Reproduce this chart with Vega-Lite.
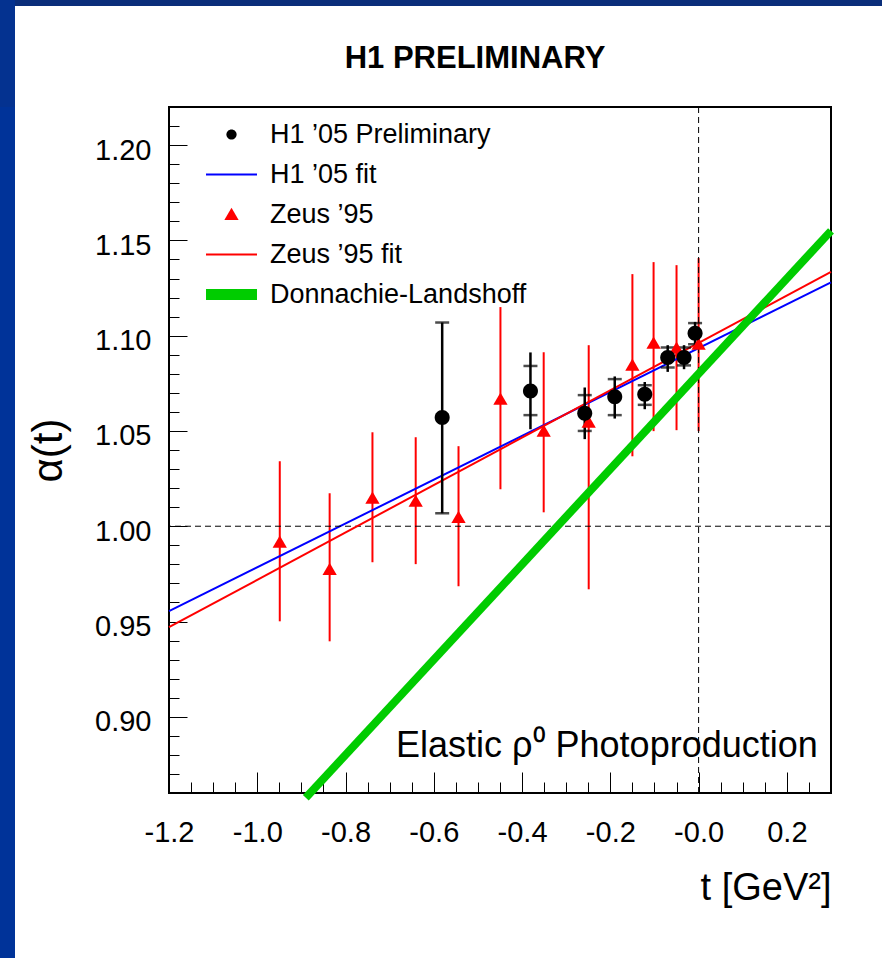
{
  "$schema": "https://vega.github.io/schema/vega-lite/v6.json",
  "background": "white",
  "padding": 0,
  "spacing": -101,
  "config": {
    "font": "Liberation Sans",
    "view": {"stroke": null},
    "legend": {
      "symbolSize": 2600,
      "symbolStrokeWidth": 0,
      "symbolOpacity": 1,
      "labelFont": "Liberation Sans",
      "labelFontSize": 27,
      "labelColor": "black",
      "labelOffset": 13,
      "labelLimit": 400,
      "rowPadding": 12,
      "clipHeight": 27,
      "padding": 0
    }
  },
  "datasets": {
    "h1": [
      {"series": "H1 ’05 Preliminary", "t": -0.581, "a": 1.0571, "stat_lo": 1.0068, "stat_hi": 1.1069, "tot_lo": 1.0068, "tot_hi": 1.1069},
      {"series": "H1 ’05 Preliminary", "t": -0.381, "a": 1.0710, "stat_lo": 1.0583, "stat_hi": 1.0841, "tot_lo": 1.0509, "tot_hi": 1.0912},
      {"series": "H1 ’05 Preliminary", "t": -0.258, "a": 1.0593, "stat_lo": 1.0500, "stat_hi": 1.0688, "tot_lo": 1.0457, "tot_hi": 1.0728},
      {"series": "H1 ’05 Preliminary", "t": -0.190, "a": 1.0679, "stat_lo": 1.0583, "stat_hi": 1.0772, "tot_lo": 1.0565, "tot_hi": 1.0786},
      {"series": "H1 ’05 Preliminary", "t": -0.122, "a": 1.0693, "stat_lo": 1.0637, "stat_hi": 1.0740, "tot_lo": 1.0614, "tot_hi": 1.0757},
      {"series": "H1 ’05 Preliminary", "t": -0.070, "a": 1.0886, "stat_lo": 1.0833, "stat_hi": 1.0938, "tot_lo": 1.0810, "tot_hi": 1.0950},
      {"series": "H1 ’05 Preliminary", "t": -0.033, "a": 1.0886, "stat_lo": 1.0844, "stat_hi": 1.0938, "tot_lo": 1.0824, "tot_hi": 1.0950},
      {"series": "H1 ’05 Preliminary", "t": -0.008, "a": 1.1013, "stat_lo": 1.0955, "stat_hi": 1.1066, "tot_lo": 1.0950, "tot_hi": 1.1072}
    ],
    "zeus": [
      {"series": "Zeus ’95", "t": -0.949, "a": 0.9916, "lo": 0.9501, "hi": 1.0341},
      {"series": "Zeus ’95", "t": -0.836, "a": 0.9774, "lo": 0.9396, "hi": 1.0173},
      {"series": "Zeus ’95", "t": -0.739, "a": 1.0147, "lo": 0.9811, "hi": 1.0493},
      {"series": "Zeus ’95", "t": -0.641, "a": 1.0131, "lo": 0.9801, "hi": 1.0467},
      {"series": "Zeus ’95", "t": -0.544, "a": 1.0047, "lo": 0.9685, "hi": 1.0420},
      {"series": "Zeus ’95", "t": -0.449, "a": 1.0667, "lo": 1.0194, "hi": 1.1150},
      {"series": "Zeus ’95", "t": -0.351, "a": 1.0499, "lo": 1.0073, "hi": 1.0913},
      {"series": "Zeus ’95", "t": -0.249, "a": 1.0546, "lo": 0.9669, "hi": 1.0950},
      {"series": "Zeus ’95", "t": -0.150, "a": 1.0845, "lo": 1.0367, "hi": 1.1323},
      {"series": "Zeus ’95", "t": -0.102, "a": 1.0961, "lo": 1.0499, "hi": 1.1386},
      {"series": "Zeus ’95", "t": -0.050, "a": 1.0934, "lo": 1.0504, "hi": 1.1370},
      {"series": "Zeus ’95", "t": 0.000, "a": 1.0955, "lo": 1.0499, "hi": 1.1407}
    ],
    "fit_h1": [
      {"series": "H1 ’05 fit", "t": -1.2, "a": 0.9554},
      {"series": "H1 ’05 fit", "t": 0.3, "a": 1.128}
    ],
    "fit_zeus": [
      {"series": "Zeus ’95 fit", "t": -1.2, "a": 0.947},
      {"series": "Zeus ’95 fit", "t": 0.3, "a": 1.1335}
    ],
    "fit_dl": [
      {"series": "Donnachie-Landshoff", "t": -0.89, "a": 0.8575},
      {"series": "Donnachie-Landshoff", "t": 0.3, "a": 1.155}
    ]
  },
  "vconcat": [
    {
      "spacing": 0,
      "hconcat": [
        {
          "width": 15,
          "height": 107,
          "data": {"values": []},
          "mark": "point",
          "view": {"fill": "#043290", "stroke": null}
        },
        {
          "width": 867,
          "height": 6,
          "data": {"values": []},
          "mark": "point",
          "view": {"fill": "#0b2e7a", "stroke": null}
        }
      ]
    },
    {
      "spacing": 11,
      "hconcat": [
        {
          "width": 15,
          "height": 851,
          "data": {"values": []},
          "mark": "point",
          "view": {"fill": "#003399", "stroke": null}
        },
        {
          "width": 662,
          "height": 686,
          "view": {"stroke": "black", "strokeWidth": 2},
          "title": {
            "text": ["", "H1 PRELIMINARY"],
            "font": "Liberation Sans",
            "fontSize": 31,
            "fontWeight": "bold",
            "color": "black",
            "anchor": "middle",
            "dx": -25,
            "offset": 1,
            "lineHeight": 35,
            "baseline": "bottom"
          },
          "resolve": {"axis": {"x": "independent", "y": "independent"}},
          "layer": [
            {
              "data": {"name": "zeus"},
              "mark": {"type": "rule", "color": "#ff0000", "strokeWidth": 2},
              "encoding": {
                "x": {
                  "field": "t", "type": "quantitative",
                  "scale": {"domain": [-1.2, 0.3], "nice": false, "zero": false},
                  "axis": {
                    "orient": "bottom",
                    "values": [-1.2, -1.0, -0.8, -0.6, -0.4, -0.2, 0, 0.2],
                    "labelExpr": "abs(datum.value) < 0.001 ? '-0.0' : (datum.value < 0 ? '-' : '') + format(abs(datum.value), '.1f')",
                    "tickSize": -21,
                    "tickColor": "black",
                    "tickWidth": 1,
                    "domain": false,
                    "grid": false,
                    "labelFont": "Liberation Sans",
                    "labelFontSize": 29,
                    "labelColor": "black",
                    "labelPadding": 46,
                    "labelOverlap": false,
                    "labelFlush": false,
                    "title": "t [GeV²]",
                    "titleFont": "Liberation Sans",
                    "titleFontSize": 38,
                    "titleFontWeight": "normal",
                    "titleColor": "black",
                    "titleAnchor": "end",
                    "titlePadding": 22
                  }
                },
                "y": {
                  "field": "lo", "type": "quantitative",
                  "scale": {"domain": [0.86, 1.22], "nice": false, "zero": false},
                  "axis": {
                    "orient": "left",
                    "values": [0.9, 0.95, 1.0, 1.05, 1.1, 1.15, 1.2],
                    "format": ".2f",
                    "tickSize": -18,
                    "tickColor": "black",
                    "tickWidth": 1,
                    "domain": false,
                    "grid": false,
                    "labelFont": "Liberation Sans",
                    "labelFontSize": 29,
                    "labelColor": "black",
                    "labelPadding": 36,
                    "labelOffset": 5,
                    "labelOverlap": false,
                    "labelFlush": false,
                    "title": "α(t)",
                    "titleFont": "Liberation Sans",
                    "titleFontSize": 42,
                    "titleFontWeight": "normal",
                    "titleColor": "black",
                    "titlePadding": 24
                  }
                },
                "y2": {"field": "hi"}
              }
            },
            {
              "data": {"name": "fit_h1"},
              "mark": {"type": "line", "color": "#0000ff", "strokeWidth": 2},
              "encoding": {
                "x": {
                  "field": "t", "type": "quantitative",
                  "axis": {
                    "orient": "bottom",
                    "values": [-1.15, -1.1, -1.05, -0.95, -0.9, -0.85, -0.75, -0.7, -0.65, -0.55, -0.5, -0.45, -0.35, -0.3, -0.25, -0.15, -0.1, -0.05, 0.05, 0.1, 0.15, 0.25],
                    "tickSize": -11,
                    "tickColor": "black",
                    "tickWidth": 1,
                    "domain": false,
                    "grid": false,
                    "labels": false,
                    "title": null
                  }
                },
                "y": {
                  "field": "a", "type": "quantitative",
                  "axis": {
                    "orient": "left",
                    "values": [0.86, 0.87, 0.88, 0.89, 0.91, 0.92, 0.93, 0.94, 0.96, 0.97, 0.98, 0.99, 1.01, 1.02, 1.03, 1.04, 1.06, 1.07, 1.08, 1.09, 1.11, 1.12, 1.13, 1.14, 1.16, 1.17, 1.18, 1.19, 1.21, 1.22],
                    "tickSize": -10,
                    "tickColor": "black",
                    "tickWidth": 1,
                    "domain": false,
                    "grid": false,
                    "labels": false,
                    "title": null
                  }
                }
              }
            },
            {
              "data": {"values": [{}]},
              "mark": {"type": "rule", "color": "black", "strokeWidth": 1, "strokeDash": [6, 4]},
              "encoding": {"y": {"datum": 1, "type": "quantitative", "axis": null}}
            },
            {
              "data": {"values": [{}]},
              "mark": {"type": "rule", "color": "black", "strokeWidth": 1, "strokeDash": [6, 4]},
              "encoding": {"x": {"datum": 0, "type": "quantitative", "axis": null}}
            },
            {
              "data": {"name": "fit_zeus"},
              "mark": {"type": "line", "color": "#ff0000", "strokeWidth": 2},
              "encoding": {
                "x": {"field": "t", "type": "quantitative", "axis": null},
                "y": {"field": "a", "type": "quantitative", "axis": null}
              }
            },
            {
              "data": {"name": "fit_dl"},
              "mark": {"type": "line", "color": "#00cc00", "strokeWidth": 8, "strokeCap": "butt"},
              "encoding": {
                "x": {"field": "t", "type": "quantitative", "axis": null},
                "y": {"field": "a", "type": "quantitative", "axis": null}
              }
            },
            {
              "data": {"name": "h1"},
              "mark": {"type": "rule", "color": "black", "strokeWidth": 2.5},
              "encoding": {
                "x": {"field": "t", "type": "quantitative", "axis": null},
                "y": {"field": "tot_lo", "type": "quantitative", "axis": null},
                "y2": {"field": "tot_hi"}
              }
            },
            {
              "data": {"name": "h1"},
              "mark": {"type": "tick", "orient": "horizontal", "size": 14, "thickness": 2.5, "color": "black"},
              "encoding": {
                "x": {"field": "t", "type": "quantitative", "axis": null},
                "y": {"field": "stat_lo", "type": "quantitative", "axis": null}
              }
            },
            {
              "data": {"name": "h1"},
              "mark": {"type": "tick", "orient": "horizontal", "size": 14, "thickness": 2.5, "color": "black"},
              "encoding": {
                "x": {"field": "t", "type": "quantitative", "axis": null},
                "y": {"field": "stat_hi", "type": "quantitative", "axis": null}
              }
            },
            {
              "data": {"name": "zeus"},
              "mark": {"type": "point", "filled": true, "size": 2600, "strokeWidth": 0, "opacity": 1},
              "encoding": {
                "x": {"field": "t", "type": "quantitative", "axis": null},
                "y": {"field": "a", "type": "quantitative", "axis": null},
                "fill": {
                  "field": "series", "type": "nominal",
                  "scale": {"domain": ["H1 ’05 Preliminary", "H1 ’05 fit", "Zeus ’95", "Zeus ’95 fit", "Donnachie-Landshoff"], "range": ["#000000", "#0000ff", "#ff0000", "#ff0000", "#00cc00"]},
                  "legend": {"title": null, "orient": "none", "legendX": 206, "legendY": 121}
                },
                "shape": {
                  "field": "series", "type": "nominal",
                  "scale": {"domain": ["H1 ’05 Preliminary", "H1 ’05 fit", "Zeus ’95", "Zeus ’95 fit", "Donnachie-Landshoff"], "range": ["M-0.2,0A0.2,0.2,0,1,0,0.2,0A0.2,0.2,0,1,0,-0.2,0Z", "M-1,-0.04H1V0.04H-1Z", "M0,-0.26L0.28,0.22L-0.28,0.22Z", "M-1,-0.04H1V0.04H-1Z", "M-1,-0.22H1V0.22H-1Z"]},
                  "legend": {"title": null, "orient": "none", "legendX": 206, "legendY": 121}
                }
              }
            },
            {
              "data": {"name": "h1"},
              "mark": {"type": "point", "filled": true, "size": 5625, "strokeWidth": 0, "opacity": 1},
              "encoding": {
                "x": {"field": "t", "type": "quantitative", "axis": null},
                "y": {"field": "a", "type": "quantitative", "axis": null},
                "fill": {
                  "field": "series", "type": "nominal",
                  "scale": {"domain": ["H1 ’05 Preliminary", "H1 ’05 fit", "Zeus ’95", "Zeus ’95 fit", "Donnachie-Landshoff"], "range": ["#000000", "#0000ff", "#ff0000", "#ff0000", "#00cc00"]},
                  "legend": {"title": null, "orient": "none", "legendX": 206, "legendY": 121}
                },
                "shape": {
                  "field": "series", "type": "nominal",
                  "scale": {"domain": ["H1 ’05 Preliminary", "H1 ’05 fit", "Zeus ’95", "Zeus ’95 fit", "Donnachie-Landshoff"], "range": ["M-0.2,0A0.2,0.2,0,1,0,0.2,0A0.2,0.2,0,1,0,-0.2,0Z", "M-1,-0.04H1V0.04H-1Z", "M0,-0.26L0.28,0.22L-0.28,0.22Z", "M-1,-0.04H1V0.04H-1Z", "M-1,-0.22H1V0.22H-1Z"]},
                  "legend": {"title": null, "orient": "none", "legendX": 206, "legendY": 121}
                }
              }
            },
            {
              "data": {"values": [{}]},
              "mark": {"type": "text", "text": "Elastic ρ⁰ Photoproduction", "font": "Liberation Sans", "fontSize": 36, "color": "black", "align": "right", "baseline": "alphabetic"},
              "encoding": {
                "x": {"datum": 0.27, "type": "quantitative", "axis": null},
                "y": {"datum": 0.879, "type": "quantitative", "axis": null}
              }
            }
          ]
        }
      ]
    }
  ]
}
